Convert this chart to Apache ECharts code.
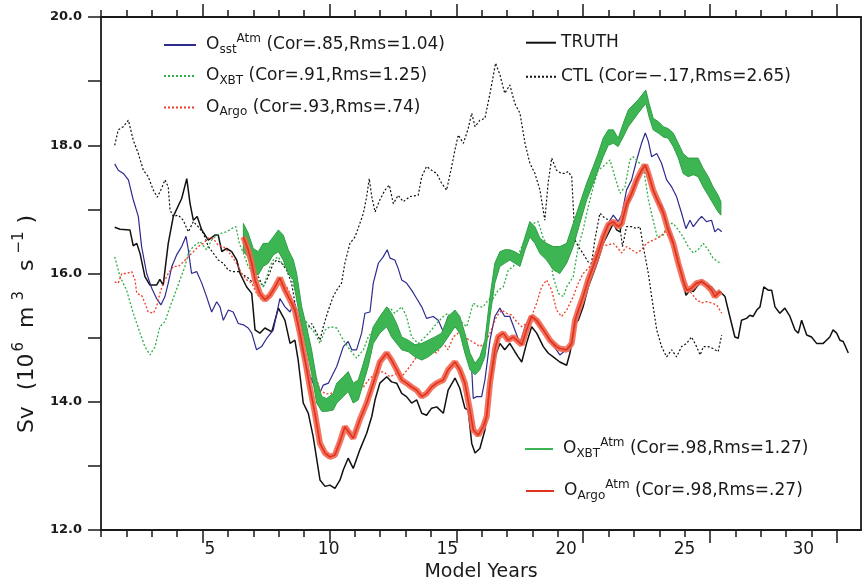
<!DOCTYPE html>
<html>
<head>
<meta charset="utf-8">
<script src="https://cdn.jsdelivr.net/npm/echarts@6/dist/echarts.min.js"></script>
<style>
  html, body { margin: 0; padding: 0; background: #fff; }
  #chart { width: 862px; height: 580px; }
</style>
</head>
<body>
<div id="chart"></div>
<script>
// 模型年份刻度（数据轴 1 ~ 31）
const yearTicks = [1, 2, 3, 4, 5, 6, 7, 8, 9, 10, 11, 12, 13, 14, 15, 16, 17, 18, 19, 20, 21, 22, 23, 24, 25, 26, 27, 28, 29, 30]
const majorYears = [5, 10, 15, 20, 25, 30]
const xLabels = [5, 10, 15, 20, 25, 30]
const yTicks = [12, 13, 14, 15, 16, 17, 18, 19, 20]
const yLabels = [12, 14, 16, 18, 20]

// [year, Sv]
const truth = [
  [1.54, 16.72], [1.75, 16.69], [2.14, 16.68], [2.27, 16.43], [2.41, 16.47], [2.54, 16.31], [2.73, 15.95], [2.93, 15.82],
  [3.19, 15.82], [3.32, 15.91], [3.45, 15.82], [3.65, 16.47], [3.85, 16.89], [4.18, 17.17], [4.38, 17.48], [4.51, 17.09],
  [4.64, 16.83], [4.79, 16.89], [4.97, 16.68], [5.23, 16.52], [5.49, 16.60], [5.62, 16.60], [5.76, 16.34], [5.95, 16.39],
  [6.15, 16.34], [6.35, 16.21], [6.48, 16.00], [6.74, 15.79], [6.94, 15.69], [7.07, 15.12], [7.26, 15.07], [7.46, 15.15],
  [7.73, 15.09], [7.99, 15.46], [8.25, 15.27], [8.45, 14.91], [8.64, 14.96], [8.77, 14.65], [8.97, 13.98], [9.17, 13.82],
  [9.36, 13.46], [9.63, 12.78], [9.83, 12.68], [10.02, 12.70], [10.22, 12.65], [10.42, 12.78], [10.55, 12.94], [10.74, 13.12],
  [10.94, 12.96], [11.20, 13.25], [11.47, 13.51], [11.67, 13.77], [11.80, 14.03], [11.99, 14.29], [12.26, 14.39], [12.45, 14.31],
  [12.65, 14.29], [12.85, 14.13], [13.04, 14.08], [13.24, 13.98], [13.44, 14.03], [13.64, 13.82], [13.83, 13.79], [14.03, 13.90],
  [14.23, 13.92], [14.49, 13.82], [14.68, 14.18], [14.95, 14.37], [15.14, 14.21], [15.34, 13.90], [15.47, 13.87], [15.61, 13.35],
  [15.74, 13.20], [15.93, 13.27], [16.13, 13.56], [16.33, 14.29], [16.52, 14.70], [16.72, 14.91], [16.91, 14.81], [17.11, 14.91],
  [17.31, 14.78], [17.44, 14.70], [17.58, 14.62], [17.77, 14.91], [17.97, 15.17], [18.17, 15.07], [18.43, 14.86], [18.62, 14.76],
  [18.82, 14.70], [19.08, 14.62], [19.35, 14.57], [19.48, 14.76], [19.68, 15.22], [19.81, 15.27], [20.00, 15.48], [20.20, 15.79],
  [20.40, 16.00], [20.59, 16.21], [20.79, 16.47], [21.06, 16.68], [21.19, 16.78], [21.32, 16.68], [21.45, 16.65], [21.58, 16.89],
  [21.78, 17.09], [21.97, 17.30], [22.24, 17.54], [22.43, 17.69], [22.57, 17.56], [22.76, 17.30], [22.96, 17.09], [23.09, 17.07],
  [23.29, 16.78], [23.49, 16.57], [23.68, 16.31], [23.88, 16.00], [24.05, 15.66], [24.21, 15.74], [24.34, 15.72], [24.53, 15.82],
  [24.67, 15.90], [24.86, 15.82], [25.06, 15.79], [25.26, 15.69], [25.39, 15.72], [25.59, 15.64], [25.78, 15.33], [25.98, 15.01],
  [26.11, 14.99], [26.24, 15.27], [26.44, 15.30], [26.57, 15.35], [26.70, 15.33], [26.84, 15.43], [26.97, 15.48], [27.12, 15.79],
  [27.29, 15.74], [27.43, 15.74], [27.56, 15.48], [27.75, 15.38], [27.95, 15.46], [28.15, 15.33], [28.35, 15.12], [28.48, 15.07],
  [28.61, 15.27], [28.81, 15.04], [29.00, 15.01], [29.20, 14.91], [29.46, 14.91], [29.59, 14.96], [29.72, 15.01], [29.85, 15.12],
  [29.99, 15.07], [30.12, 14.96], [30.25, 14.94], [30.45, 14.76]
]

const osst = [
  [1.54, 17.71], [1.68, 17.61], [1.88, 17.56], [2.08, 17.46], [2.27, 17.15], [2.47, 16.89], [2.60, 16.42], [2.80, 16.00],
  [3.00, 15.77], [3.19, 15.61], [3.36, 15.51], [3.52, 15.64], [3.65, 15.85], [3.79, 16.11], [3.98, 16.29], [4.18, 16.42],
  [4.35, 16.58], [4.44, 16.37], [4.57, 16.00], [4.77, 16.03], [4.97, 15.85], [5.16, 15.64], [5.36, 15.40], [5.56, 15.56],
  [5.69, 15.48], [5.82, 15.27], [6.02, 15.43], [6.21, 15.40], [6.41, 15.22], [6.61, 15.20], [6.80, 15.15], [6.94, 15.07],
  [7.13, 14.81], [7.33, 14.86], [7.53, 14.99], [7.79, 15.12], [8.05, 15.61], [8.25, 15.48], [8.45, 15.40], [8.62, 15.56],
  [8.77, 15.17], [8.91, 14.81], [9.10, 14.55], [9.36, 14.29], [9.56, 14.08], [9.76, 14.26], [9.96, 14.29], [10.15, 14.44],
  [10.29, 14.55], [10.55, 14.86], [10.74, 14.94], [10.88, 14.81], [11.07, 14.81], [11.27, 15.07], [11.40, 15.38], [11.60, 15.40],
  [11.73, 15.85], [11.93, 16.16], [12.12, 16.26], [12.28, 16.37], [12.39, 16.24], [12.58, 16.21], [12.71, 16.08], [12.85, 15.90],
  [13.04, 15.85], [13.24, 15.74], [13.44, 15.61], [13.64, 15.48], [13.83, 15.30], [14.09, 15.33], [14.29, 15.27], [14.49, 15.09],
  [14.68, 15.33], [14.88, 15.35], [15.01, 15.33], [15.21, 15.07], [15.41, 14.81], [15.61, 14.50], [15.67, 14.05], [15.80, 14.08],
  [16.00, 14.08], [16.13, 14.34], [16.33, 14.96], [16.52, 15.33], [16.72, 15.46], [16.91, 15.33], [17.11, 15.33], [17.31, 15.12],
  [17.51, 14.91], [17.71, 15.17], [17.90, 15.33], [18.10, 15.27], [18.43, 15.12], [18.69, 14.96], [18.95, 14.81], [19.08, 14.73],
  [19.48, 14.86], [19.74, 15.27], [20.00, 15.64], [20.27, 16.00], [20.53, 16.32], [20.79, 16.57], [21.06, 16.83], [21.19, 16.91],
  [21.38, 16.81], [21.52, 16.91], [21.71, 17.30], [21.91, 17.46], [22.11, 17.77], [22.30, 18.03], [22.45, 18.19], [22.57, 18.06],
  [22.70, 17.82], [22.90, 17.87], [23.09, 17.72], [23.29, 17.46], [23.49, 17.35], [23.68, 17.20], [23.88, 16.94], [24.05, 16.70],
  [24.21, 16.83], [24.34, 16.73], [24.53, 16.83], [24.67, 16.89], [24.86, 16.81], [25.06, 16.83], [25.19, 16.65], [25.32, 16.70],
  [25.46, 16.65]
]

const oxbt = [
  [1.54, 16.26], [1.75, 15.95], [2.01, 15.74], [2.27, 15.38], [2.54, 15.07], [2.73, 14.86], [2.93, 14.73], [3.13, 14.86],
  [3.32, 15.17], [3.52, 15.25], [3.72, 15.48], [3.92, 15.69], [4.11, 15.90], [4.31, 16.11], [4.44, 16.32], [4.64, 16.42],
  [4.90, 16.50], [5.16, 16.37], [5.36, 16.52], [5.56, 16.60], [5.76, 16.63], [5.95, 16.65], [6.15, 16.70], [6.32, 16.73],
  [6.45, 16.47], [6.61, 16.32], [6.80, 16.11], [7.00, 16.00], [7.20, 15.90], [7.39, 15.79], [7.53, 15.95], [7.66, 16.11],
  [7.79, 16.21], [7.99, 16.26], [8.12, 16.16], [8.32, 16.11], [8.51, 15.95], [8.71, 15.64], [8.84, 15.33], [9.04, 15.27],
  [9.23, 15.17], [9.43, 15.07], [9.63, 14.91], [9.83, 15.12], [10.02, 15.17], [10.29, 15.15], [10.55, 14.96], [10.81, 14.81],
  [11.07, 14.68], [11.34, 14.81], [11.53, 15.01], [11.73, 15.12], [11.93, 15.27], [12.12, 15.38], [12.39, 15.46], [12.58, 15.38],
  [12.85, 15.48], [13.04, 15.33], [13.24, 15.01], [13.50, 14.91], [13.77, 15.01], [13.96, 15.09], [14.23, 15.22], [14.49, 15.33],
  [14.68, 15.38], [14.88, 15.22], [15.14, 15.27], [15.41, 15.17], [15.67, 15.54], [15.87, 15.48], [16.06, 15.48], [16.26, 15.59],
  [16.46, 15.61], [16.65, 15.74], [16.85, 15.79], [17.05, 16.05], [17.25, 16.11], [17.44, 16.29], [17.64, 16.47], [17.84, 16.63],
  [18.03, 16.78], [18.23, 16.81], [18.43, 16.55], [18.62, 16.42], [18.82, 15.95], [19.02, 15.69], [19.22, 15.64], [19.35, 15.79],
  [19.61, 15.95], [19.81, 16.42], [20.00, 16.68], [20.20, 17.04], [20.40, 17.35], [20.59, 17.61], [20.79, 17.67], [21.06, 17.77],
  [21.25, 17.51], [21.45, 17.25], [21.65, 17.35], [21.84, 17.77], [21.97, 17.82], [22.17, 17.74], [22.37, 17.67], [22.57, 17.15],
  [22.76, 16.83], [22.92, 16.57], [23.16, 16.60], [23.35, 16.78], [23.55, 16.78], [23.75, 16.68], [23.94, 16.57], [24.14, 16.42],
  [24.34, 16.32], [24.53, 16.37], [24.73, 16.47], [24.93, 16.37], [25.12, 16.24], [25.32, 16.18], [25.46, 16.16]
]

const oargo = [
  [1.54, 15.87], [1.68, 15.85], [1.82, 16.00], [2.01, 16.00], [2.21, 16.03], [2.34, 15.90], [2.41, 15.69], [2.60, 15.66],
  [2.73, 15.54], [2.86, 15.40], [3.06, 15.38], [3.19, 15.48], [3.32, 15.69], [3.45, 15.85], [3.65, 16.00], [3.85, 16.11],
  [4.05, 16.11], [4.24, 16.18], [4.44, 16.26], [4.64, 16.34], [4.83, 16.42], [5.03, 16.47], [5.23, 16.55], [5.42, 16.55],
  [5.62, 16.44], [5.82, 16.42], [6.02, 16.34], [6.21, 16.24], [6.41, 16.11], [6.54, 16.00], [6.74, 15.90], [6.94, 15.85],
  [7.13, 15.69], [7.33, 15.59], [7.53, 15.64], [7.73, 15.74], [7.92, 15.85], [8.12, 15.82], [8.32, 15.79], [8.45, 15.69],
  [8.64, 15.40], [8.84, 15.17], [9.04, 15.01], [9.23, 14.76], [9.43, 14.44], [9.63, 14.18], [9.83, 14.13], [10.02, 14.12],
  [10.29, 14.18], [10.55, 14.29], [10.81, 14.34], [11.07, 14.18], [11.34, 14.23], [11.60, 14.37], [11.86, 14.44], [12.12, 14.47],
  [12.39, 14.39], [12.65, 14.44], [12.91, 14.42], [13.17, 14.55], [13.44, 14.70], [13.70, 14.73], [13.96, 14.81], [14.23, 14.76],
  [14.49, 14.91], [14.68, 14.81], [14.88, 15.01], [15.08, 15.07], [15.28, 15.01], [15.54, 14.96], [15.74, 14.91], [15.93, 14.86],
  [16.13, 14.91], [16.33, 15.07], [16.59, 15.33], [16.79, 15.43], [16.99, 15.38], [17.18, 15.35], [17.38, 15.25], [17.58, 15.17],
  [17.77, 15.22], [17.97, 15.33], [18.17, 15.54], [18.36, 15.79], [18.56, 15.90], [18.76, 15.74], [18.95, 15.43], [19.15, 15.33],
  [19.35, 15.43], [19.61, 15.64], [19.81, 15.85], [20.00, 16.00], [20.27, 16.11], [20.53, 16.37], [20.73, 16.47], [20.93, 16.44],
  [21.19, 16.47], [21.38, 16.39], [21.52, 16.32], [21.71, 16.42], [21.91, 16.37], [22.11, 16.32], [22.30, 16.37], [22.50, 16.47],
  [22.76, 16.52], [23.02, 16.57], [23.22, 16.65], [23.42, 16.57], [23.61, 16.42], [23.81, 16.11], [24.01, 15.79], [24.27, 15.69],
  [24.47, 15.59], [24.67, 15.54], [24.86, 15.56], [25.06, 15.54], [25.26, 15.51], [25.46, 15.38]
]

const ctl = [
  [1.54, 18.00], [1.68, 18.24], [1.88, 18.29], [2.08, 18.39], [2.27, 18.08], [2.47, 17.87], [2.67, 17.61], [2.86, 17.51],
  [3.06, 17.30], [3.22, 17.19], [3.39, 17.33], [3.52, 17.46], [3.65, 17.35], [3.72, 16.99], [3.85, 16.89], [4.05, 16.91],
  [4.24, 16.83], [4.44, 16.65], [4.64, 16.81], [4.83, 16.73], [5.03, 16.63], [5.23, 16.42], [5.42, 16.32], [5.62, 16.21],
  [5.82, 16.16], [6.02, 16.05], [6.21, 16.03], [6.41, 16.03], [6.61, 15.98], [6.80, 15.93], [7.00, 15.85], [7.20, 15.95],
  [7.39, 15.79], [7.59, 15.95], [7.79, 16.16], [7.92, 16.21], [8.12, 16.16], [8.32, 16.05], [8.51, 15.85], [8.71, 15.38],
  [8.91, 15.22], [9.10, 15.12], [9.30, 15.22], [9.50, 15.07], [9.63, 14.96], [9.76, 15.17], [9.96, 15.43], [10.15, 15.64],
  [10.29, 15.74], [10.48, 15.85], [10.61, 16.16], [10.81, 16.47], [11.01, 16.57], [11.20, 16.78], [11.34, 16.94], [11.47, 17.20],
  [11.57, 17.48], [11.67, 17.20], [11.80, 16.96], [11.99, 17.15], [12.19, 17.30], [12.36, 17.38], [12.52, 17.09], [12.71, 17.22],
  [12.91, 17.12], [13.17, 17.20], [13.50, 17.22], [13.64, 17.51], [13.83, 17.67], [14.03, 17.61], [14.23, 17.56], [14.42, 17.41],
  [14.62, 17.30], [14.82, 17.67], [14.95, 17.93], [15.08, 18.16], [15.28, 18.03], [15.47, 18.26], [15.61, 18.50], [15.74, 18.29],
  [15.93, 18.39], [16.13, 18.42], [16.33, 18.81], [16.55, 19.28], [16.72, 19.10], [16.91, 18.81], [17.11, 18.94], [17.31, 18.65],
  [17.51, 18.50], [17.71, 18.03], [17.90, 17.72], [18.10, 17.56], [18.30, 17.30], [18.49, 16.83], [18.62, 17.41], [18.76, 17.80],
  [18.95, 17.61], [19.15, 17.56], [19.28, 17.56], [19.41, 17.59], [19.55, 17.51], [19.68, 16.52], [19.81, 16.42], [20.00, 16.31],
  [20.20, 16.18], [20.33, 16.16], [20.46, 16.52], [20.66, 16.94], [20.86, 16.86], [21.06, 16.83], [21.25, 16.78], [21.45, 16.73],
  [21.55, 16.42], [21.71, 16.73], [21.91, 16.73], [22.11, 16.70], [22.24, 16.73], [22.37, 16.42], [22.57, 16.00], [22.70, 15.64],
  [22.90, 15.12], [23.09, 14.86], [23.29, 14.70], [23.49, 14.81], [23.68, 14.70], [23.88, 14.86], [24.08, 14.91], [24.27, 15.01],
  [24.47, 14.86], [24.61, 14.73], [24.74, 14.86], [24.93, 14.86], [25.12, 14.83], [25.32, 14.78], [25.46, 15.04]
]

// 集合带: [year, 下沿, 上沿]
const xbtAtm = [
  [6.61, 16.34, 16.78], [6.80, 16.26, 16.63], [7.00, 16.00, 16.39], [7.20, 15.98, 16.34], [7.39, 16.11, 16.47], [7.59, 16.16, 16.47],
  [7.79, 16.29, 16.57], [7.99, 16.34, 16.68], [8.18, 16.21, 16.60], [8.38, 16.00, 16.37], [8.58, 15.90, 16.21], [8.71, 15.59, 16.00],
  [8.91, 15.17, 15.48], [9.10, 14.81, 15.17], [9.30, 14.44, 14.81], [9.50, 13.98, 14.34], [9.70, 13.85, 14.08], [9.89, 13.85, 14.05],
  [10.15, 13.87, 14.13], [10.29, 13.98, 14.29], [10.55, 14.08, 14.39], [10.74, 14.16, 14.47], [10.94, 13.98, 14.29], [11.14, 14.03, 14.34],
  [11.34, 14.29, 14.60], [11.53, 14.55, 14.86], [11.73, 14.91, 15.17], [11.99, 15.07, 15.33], [12.26, 15.17, 15.48], [12.45, 15.01, 15.38],
  [12.65, 14.91, 15.22], [12.85, 14.81, 15.01], [13.11, 14.78, 14.96], [13.37, 14.70, 14.89], [13.64, 14.65, 14.91], [13.90, 14.70, 14.96],
  [14.16, 14.78, 15.01], [14.42, 14.86, 15.07], [14.68, 15.01, 15.33], [14.95, 15.17, 15.43], [15.14, 15.07, 15.33], [15.34, 14.76, 15.07],
  [15.54, 14.50, 14.76], [15.74, 14.42, 14.60], [15.93, 14.50, 14.70], [16.13, 14.70, 14.96], [16.33, 15.33, 15.64], [16.52, 15.85, 16.16],
  [16.72, 16.11, 16.34], [16.91, 16.16, 16.37], [17.11, 16.21, 16.37], [17.31, 16.16, 16.34], [17.51, 16.11, 16.29], [17.71, 16.37, 16.57],
  [17.90, 16.57, 16.81], [18.10, 16.47, 16.73], [18.30, 16.31, 16.55], [18.56, 16.21, 16.47], [18.82, 16.06, 16.42], [19.08, 16.00, 16.42],
  [19.35, 16.16, 16.47], [19.61, 16.42, 16.78], [19.87, 16.78, 17.09], [20.14, 17.15, 17.41], [20.40, 17.41, 17.67], [20.59, 17.61, 17.87],
  [20.79, 17.82, 18.11], [20.99, 18.00, 18.24], [21.19, 18.03, 18.24], [21.38, 17.98, 18.11], [21.58, 18.13, 18.34], [21.78, 18.29, 18.55],
  [21.97, 18.39, 18.63], [22.17, 18.50, 18.71], [22.37, 18.60, 18.81], [22.47, 18.65, 18.86], [22.60, 18.44, 18.65], [22.76, 18.24, 18.42],
  [22.96, 18.19, 18.37], [23.16, 18.13, 18.29], [23.35, 18.11, 18.26], [23.55, 17.98, 18.19], [23.75, 17.80, 18.03], [23.94, 17.56, 17.87],
  [24.14, 17.51, 17.80], [24.34, 17.54, 17.80], [24.53, 17.51, 17.80], [24.73, 17.35, 17.64], [24.93, 17.22, 17.51], [25.12, 17.09, 17.35],
  [25.32, 16.96, 17.22], [25.43, 16.91, 17.12]
]

const argoAtm = [
  [6.61, 16.57], [6.80, 16.37], [6.94, 16.16], [7.07, 15.90], [7.26, 15.69], [7.46, 15.59], [7.66, 15.66], [7.86, 15.79],
  [8.05, 15.93], [8.25, 15.74], [8.45, 15.59], [8.64, 15.43], [8.84, 15.07], [9.04, 14.65], [9.23, 14.23], [9.43, 13.82],
  [9.63, 13.35], [9.83, 13.20], [10.02, 13.14], [10.22, 13.17], [10.42, 13.38], [10.61, 13.61], [10.94, 13.43], [11.20, 13.72],
  [11.47, 13.98], [11.73, 14.29], [11.99, 14.62], [12.26, 14.76], [12.45, 14.65], [12.65, 14.50], [12.85, 14.34], [13.04, 14.29],
  [13.24, 14.23], [13.44, 14.18], [13.64, 14.08], [13.83, 14.13], [14.03, 14.23], [14.23, 14.29], [14.49, 14.34], [14.68, 14.50],
  [14.95, 14.62], [15.14, 14.50], [15.34, 14.29], [15.54, 13.87], [15.67, 13.56], [15.87, 13.48], [16.06, 13.61], [16.20, 13.77],
  [16.33, 14.29], [16.52, 14.81], [16.65, 15.01], [16.85, 15.07], [17.05, 14.96], [17.25, 15.01], [17.44, 14.94], [17.58, 14.89],
  [17.77, 15.12], [17.97, 15.33], [18.17, 15.27], [18.43, 15.12], [18.69, 14.96], [18.95, 14.86], [19.08, 14.83], [19.35, 14.81],
  [19.55, 14.91], [19.68, 15.27], [19.81, 15.43], [20.00, 15.64], [20.20, 15.90], [20.40, 16.11], [20.59, 16.32], [20.79, 16.57],
  [20.99, 16.76], [21.19, 16.81], [21.38, 16.73], [21.52, 16.78], [21.71, 17.09], [21.91, 17.25], [22.11, 17.46], [22.30, 17.61],
  [22.45, 17.69], [22.57, 17.56], [22.76, 17.30], [22.96, 17.12], [23.16, 16.94], [23.35, 16.68], [23.55, 16.47], [23.75, 16.16],
  [23.94, 15.90], [24.08, 15.74], [24.27, 15.77], [24.47, 15.85], [24.67, 15.87], [24.86, 15.82], [25.06, 15.74], [25.19, 15.64],
  [25.32, 15.69], [25.43, 15.72]
]

// 图例文字（富文本：s 下标，p 上标）
const legendText = {
  Osst: '{o|O}{s|sst}{p|Atm} (Cor=.85,Rms=1.04)',
  OXBT: '{o|O}{s|XBT} (Cor=.91,Rms=1.25)',
  OArgo: '{o|O}{s|Argo} (Cor=.93,Rms=.74)',
  TRUTH: 'TRUTH',
  CTL: 'CTL (Cor=\u2212.17,Rms=2.65)',
  OXBTAtm: '{o|O}{s|XBT}{p|Atm} (Cor=.98,Rms=1.27)',
  OArgoAtm: '{o|O}{s|Argo}{p|Atm} (Cor=.98,Rms=.27)'
}

const FONT = 'DejaVu Sans'
const INK = '#1a1a1a'

const chart = echarts.init(document.getElementById('chart'))

const legendRich = {
  o: { fontFamily: FONT, fontSize: 17, color: INK, lineHeight: 20, padding: [0, 0, 0, 5] },
  s: { fontFamily: FONT, fontSize: 12, color: INK, lineHeight: 20, padding: [9, 0, 0, 0] },
  p: { fontFamily: FONT, fontSize: 12, color: INK, lineHeight: 20, padding: [0, 0, 12, 0] }
}

// 每行一个图例，便于精确定位；itemStyle 透明以去掉线条中间的圆点
const makeLegend = (name, left, cy, width, extra) => Object.assign({
  data: [name],
  orient: 'vertical',
  left: left,
  top: cy - 10,
  padding: 0,
  itemWidth: width,
  itemHeight: 14,
  selectedMode: false,
  itemStyle: { opacity: 0 },
  formatter: (n) => legendText[n],
  textStyle: { fontFamily: FONT, fontSize: 17, color: INK, lineHeight: 20, rich: legendRich }
}, extra || {})

// 集合带：用坐标轴换算后画成一个多边形
const bandRender = (params, api) => {
  if (params.dataIndexInside !== 0) return
  const n = params.dataInsideLength
  const lo = []
  const hi = []
  for (let i = 0; i < n; i++) {
    lo.push(api.coord([api.value(0, i), api.value(1, i)]))
    hi.push(api.coord([api.value(0, i), api.value(2, i)]))
  }
  return {
    type: 'polygon',
    shape: { points: lo.concat(hi.reverse()) },
    style: { fill: '#3db553', stroke: '#2f9f46', lineWidth: 1 }
  }
}

const tickAxis = (position, values, len, showLine) => ({
  type: 'value',
  position: position,
  min: 1,
  max: 30.95,
  axisLine: { show: showLine, onZero: false, lineStyle: { color: INK, width: 1.8 } },
  axisTick: { show: true, customValues: values, length: len, lineStyle: { color: INK, width: 1.5 } },
  axisLabel: { show: false },
  splitLine: { show: false }
})

const lineSeries = (name, data, color, width, type, z) => ({
  name: name,
  type: 'line',
  data: data,
  showSymbol: false,
  symbol: 'none',
  z: z,
  lineStyle: { color: color, width: width, type: type },
  itemStyle: { color: color }
})

const option = {
  animation: false,
  backgroundColor: '#fff',
  grid: { left: 101, right: 1, top: 17, bottom: 50, outerBoundsMode: 'none' },
  xAxis: [
    tickAxis('bottom', yearTicks, 7, true),
    tickAxis('bottom', majorYears, 13, false),
    tickAxis('top', yearTicks, 7, true),
    tickAxis('top', majorYears, 13, false),
    {
      // 年份标签所用的轴
      type: 'value',
      position: 'bottom',
      min: 0.407,
      max: 32.434,
      axisLine: { show: false },
      axisTick: { show: false },
      splitLine: { show: false },
      axisLabel: { customValues: xLabels, margin: 11, fontFamily: FONT, fontSize: 17, color: INK },
      name: 'Model Years',
      nameLocation: 'middle',
      nameGap: 32,
      nameTextStyle: { fontFamily: FONT, fontSize: 19, color: INK }
    }
  ],
  yAxis: [
    {
      type: 'value',
      position: 'left',
      min: 12,
      max: 20,
      axisLine: { show: true, onZero: false, lineStyle: { color: INK, width: 1.8 } },
      axisTick: { show: true, customValues: yTicks, length: 13, lineStyle: { color: INK, width: 1.5 } },
      axisLabel: {
        customValues: yLabels,
        margin: 19,
        formatter: (v) => v.toFixed(1),
        fontFamily: FONT,
        fontWeight: 'bold',
        fontSize: 13,
        color: INK
      },
      splitLine: { show: false }
    },
    {
      type: 'value',
      position: 'right',
      min: 12,
      max: 20,
      axisLine: { show: true, onZero: false, lineStyle: { color: INK, width: 1.8 } },
      axisTick: { show: false },
      axisLabel: { show: false },
      splitLine: { show: false }
    }
  ],
  legend: [
    makeLegend('Osst', 163, 43, 32),
    makeLegend('OXBT', 163, 75.5, 32),
    makeLegend('OArgo', 163, 107, 32),
    makeLegend('TRUTH', 525, 42.7, 30),
    makeLegend('CTL', 525, 76.7, 30),
    makeLegend('OXBTAtm', 525, 447, 28, {
      data: [{ name: 'OXBTAtm', icon: 'rect', itemStyle: { color: '#3db553', opacity: 1, borderWidth: 0 } }],
      itemStyle: { opacity: 1 },
      itemHeight: 2
    }),
    makeLegend('OArgoAtm', 525, 489, 28)
  ],
  graphic: [
    {
      type: 'text',
      x: 27,
      y: 324,
      rotation: Math.PI / 2,
      silent: true,
      style: {
        text: '{a|Sv}{b|(10}{p|6}{c|m}{q|3}{d|s}{r|\u22121}{e|)}',
        align: 'center',
        verticalAlign: 'middle',
        fontFamily: FONT,
        fontSize: 22,
        fill: INK,
        rich: {
          a: { fontFamily: FONT, fontSize: 22, fill: INK, lineHeight: 26 },
          b: { fontFamily: FONT, fontSize: 22, fill: INK, lineHeight: 26, padding: [0, 0, 0, 16] },
          c: { fontFamily: FONT, fontSize: 22, fill: INK, lineHeight: 26, padding: [0, 0, 0, 14] },
          d: { fontFamily: FONT, fontSize: 22, fill: INK, lineHeight: 26, padding: [0, 0, 0, 20] },
          e: { fontFamily: FONT, fontSize: 22, fill: INK, lineHeight: 26, padding: [0, 0, 0, 8] },
          p: { fontFamily: FONT, fontSize: 15, fill: INK, lineHeight: 26, padding: [0, 0, 15, 2] },
          q: { fontFamily: FONT, fontSize: 15, fill: INK, lineHeight: 26, padding: [0, 0, 15, 6] },
          r: { fontFamily: FONT, fontSize: 15, fill: INK, lineHeight: 26, padding: [0, 0, 15, 6] }
        }
      }
    }
  ],
  series: [
    lineSeries('CTL', ctl, '#111', 1.2, [2, 2], 2),
    lineSeries('TRUTH', truth, '#111', 1.5, 'solid', 3),
    lineSeries('Osst', osst, '#2e2b90', 1.2, 'solid', 4),
    lineSeries('OXBT', oxbt, '#2fae45', 1.3, [2, 2], 5),
    lineSeries('OArgo', oargo, '#ee3b26', 1.3, [2, 2], 5),
    {
      name: 'OXBTAtm',
      type: 'custom',
      data: xbtAtm,
      dimensions: ['year', 'lo', 'hi'],
      encode: { x: 0, y: [1, 2] },
      renderItem: bandRender,
      itemStyle: { color: '#3db553' },
      z: 6
    },
    lineSeries('argoBand', argoAtm, 'rgba(242,102,80,0.9)', 6, 'solid', 7),
    lineSeries('OArgoAtm', argoAtm, '#e0321c', 1.6, 'solid', 8)
  ]
}

chart.setOption(option)
window.addEventListener('resize', () => chart.resize())
</script>
</body>
</html>
